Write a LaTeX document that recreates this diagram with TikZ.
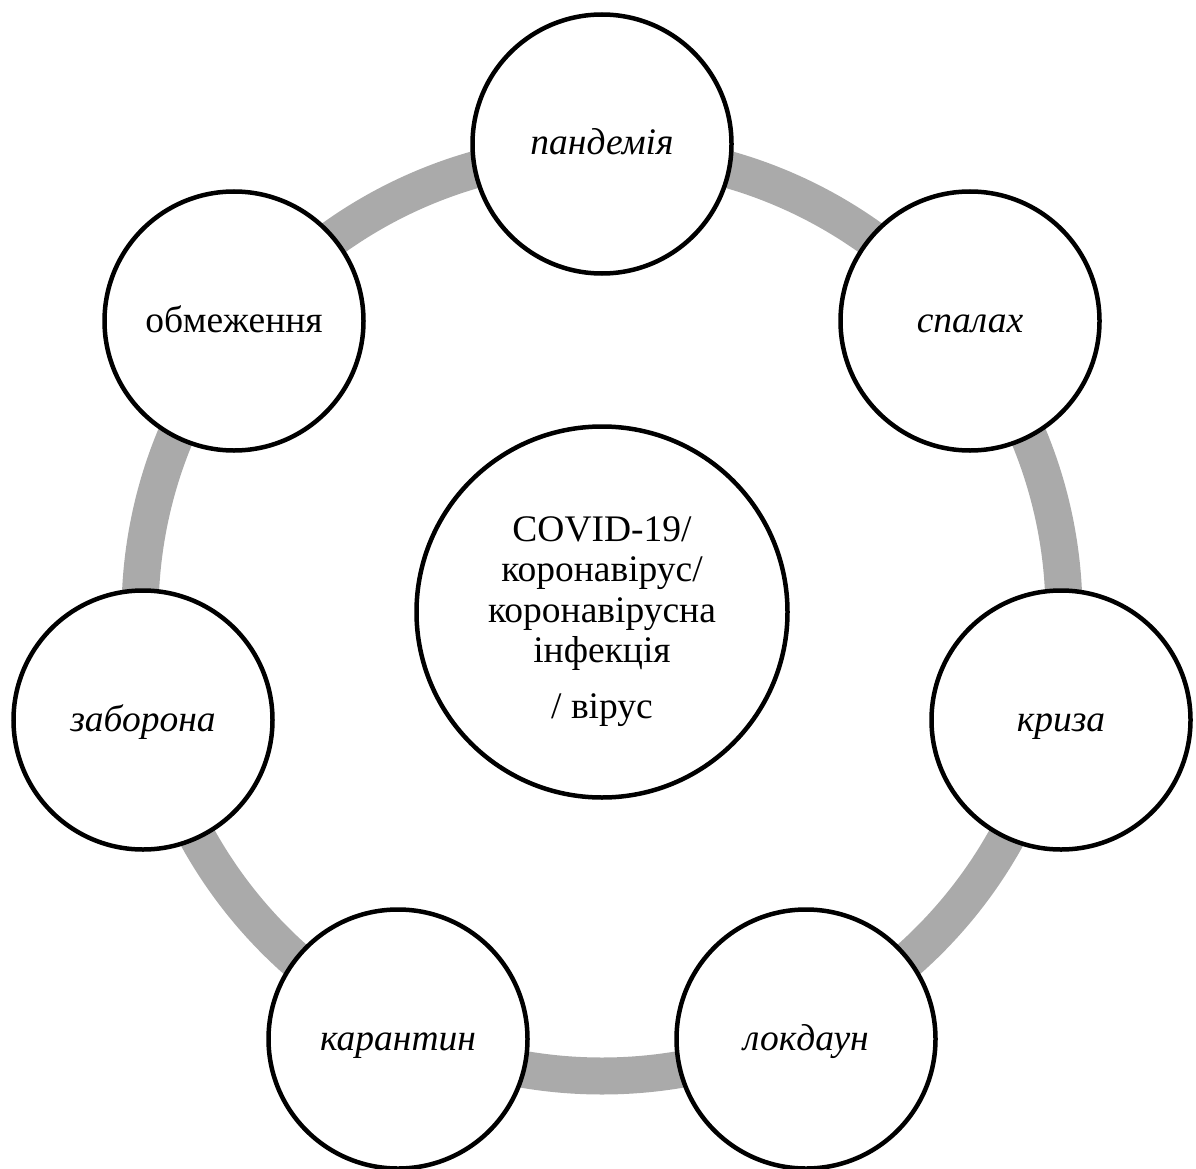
\documentclass[tikz,border=0pt]{standalone}
\usepackage{fontspec}
\setmainfont{Liberation Serif}
\definecolor{ringgray}{RGB}{170,170,170}
\begin{document}
\begin{tikzpicture}[x=1pt,y=-1pt,
  outer/.style={circle,draw=black,line width=4.5pt,fill=white,minimum size=259pt,inner sep=0pt,
    text height=27pt,text depth=5pt,font=\fontsize{37.5}{38}\selectfont\itshape},
  outerup/.style={outer,font=\fontsize{37.5}{38}\selectfont\upshape},
  hub/.style={circle,draw=black,line width=4.5pt,fill=white,minimum size=371pt,inner sep=0pt,
    align=center,font=\fontsize{37.5}{40.5}\selectfont},
  ring/.style={draw=ringgray,line width=37pt}]
\useasboundingbox (0,0) rectangle (1196,1169);
\clip (0,0) rectangle (1196,1169);
\coordinate (o) at (602,614);
\draw[ring] (o) circle[radius=462];
\node[hub] (centre) at (602,612) {\rule{0pt}{44pt}COVID-19/\\коронавірус/\\коронавірусна\\інфекція\\[15pt]/ вірус};
\node[outer] (pandemiya) at (602,144) {пандемія};
\node[outer] (spalakh) at (970,321) {спалах};
\node[outer] (kryza) at (1061,720) {криза};
\node[outer] (lokdaun) at (806,1039) {локдаун};
\node[outer] (karantyn) at (398,1039) {карантин};
\node[outer] (zaborona) at (143,720) {заборона};
\node[outerup] (obmezhennya) at (234,321) {обмеження};
\end{tikzpicture}
\end{document}
